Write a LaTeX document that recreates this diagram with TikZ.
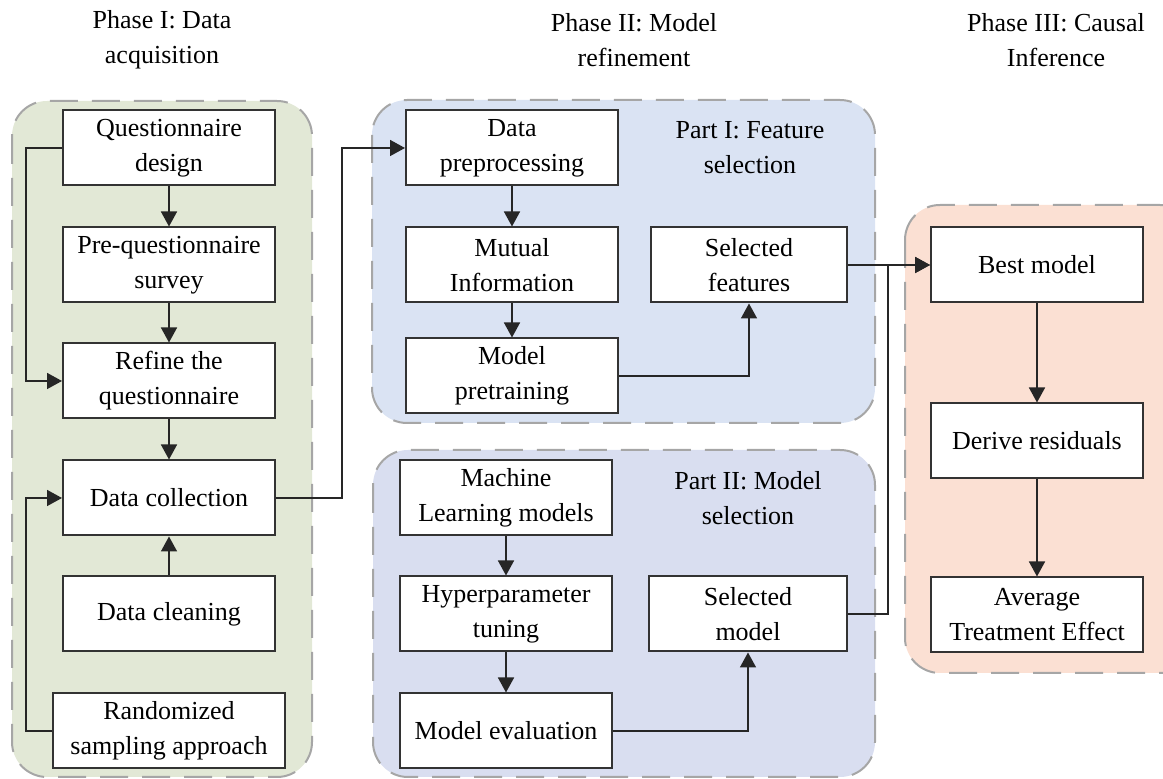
\documentclass[tikz,border=0pt]{standalone}
\usepackage{fontspec}
\setmainfont{Liberation Serif}
\usetikzlibrary{arrows.meta}
\definecolor{acqgreen}{RGB}{226,232,214}
\definecolor{featblue}{RGB}{218,227,243}
\definecolor{selblue}{RGB}{217,222,240}
\definecolor{causalorange}{RGB}{251,224,211}
\begin{document}
\begin{tikzpicture}[
    x=0.5pt, y=-0.5pt,
    font=\fontsize{13}{17.5}\selectfont,
    box/.style={draw=black!80, line width=1pt, fill=white, align=center,
        minimum width=106pt, minimum height=37.5pt, inner sep=2pt},
    panel/.style={draw=black!35, line width=1pt, dash pattern=on 14pt off 7pt,
        rounded corners=17.5pt},
    title/.style={align=center},
    arr/.style={draw=black!85, line width=0.8pt, -{Triangle[length=7.5pt,width=8pt]}}
]
\clip (0,0) rectangle (1163,779);

% panels
\draw[panel, fill=acqgreen] (12,101) rectangle (312,777);
\draw[panel, fill=featblue] (372,100) rectangle (875,423);
\draw[panel, fill=selblue] (373,450) rectangle (875,777);
\draw[panel, fill=causalorange] (905,205) rectangle (1195,673);

% phase titles
\node[title] (phaseone) at (162,40) {Phase I: Data\\acquisition};
\node[title] (phasetwo) at (634,40) {Phase II: Model\\refinement};
\node[title] (phasethree) at (1056,40) {Phase III: Causal\\Inference};

% phase I
\node[box] (design) at (169,148) {Questionnaire\\design};
\node[box] (survey) at (169,265) {Pre-questionnaire\\survey};
\node[box] (refine) at (169,381) {Refine the\\questionnaire};
\node[box] (collect) at (169,498) {Data collection};
\node[box] (cleaning) at (169,614) {Data cleaning};
\node[box, minimum width=116pt] (sampling) at (169,731) {Randomized\\sampling approach};

% phase II, part I
\node[title] (partone) at (750,148) {Part I: Feature\\selection};
\node[box] (preproc) at (512,148) {Data\\preprocessing};
\node[box] (mutual) at (512,265) {Mutual\\Information};
\node[box] (pretrain) at (512,376) {Model\\pretraining};
\node[box, minimum width=98pt] (features) at (749,265) {Selected\\features};

% phase II, part II
\node[title] (parttwo) at (748,498) {Part II: Model\\selection};
\node[box] (mlmodels) at (506,498) {Machine\\Learning models};
\node[box] (tuning) at (506,614) {Hyperparameter\\tuning};
\node[box] (evaluation) at (506,731) {Model evaluation};
\node[box, minimum width=99pt] (selmodel) at (748,614) {Selected\\model};

% phase III
\node[box] (best) at (1037,265) {Best model};
\node[box] (residuals) at (1037,441) {Derive residuals};
\node[box] (effect) at (1037,615) {Average\\Treatment Effect};

% connectors
\draw[arr] (design) -- (survey);
\draw[arr] (survey) -- (refine);
\draw[arr] (refine) -- (collect);
\draw[arr] (cleaning) -- (collect);
\draw[arr] (design.west) -- ++(-36,0) |- (refine.west);
\draw[arr] (sampling.west) -- ++(-26,0) |- (collect.west);
\draw[arr] (collect.east) -- ++(66,0) |- (preproc.west);
\draw[arr] (preproc) -- (mutual);
\draw[arr] (mutual) -- (pretrain);
\draw[arr] (pretrain.east) -| (features.south);
\draw[arr] (mlmodels) -- (tuning);
\draw[arr] (tuning) -- (evaluation);
\draw[arr] (evaluation.east) -| (selmodel.south);
\draw[arr] (features) -- (best);
\draw[arr] (selmodel.east) -- ++(40,0) |- (best.west);
\draw[arr] (best) -- (residuals);
\draw[arr] (residuals) -- (effect);
\end{tikzpicture}
\end{document}
